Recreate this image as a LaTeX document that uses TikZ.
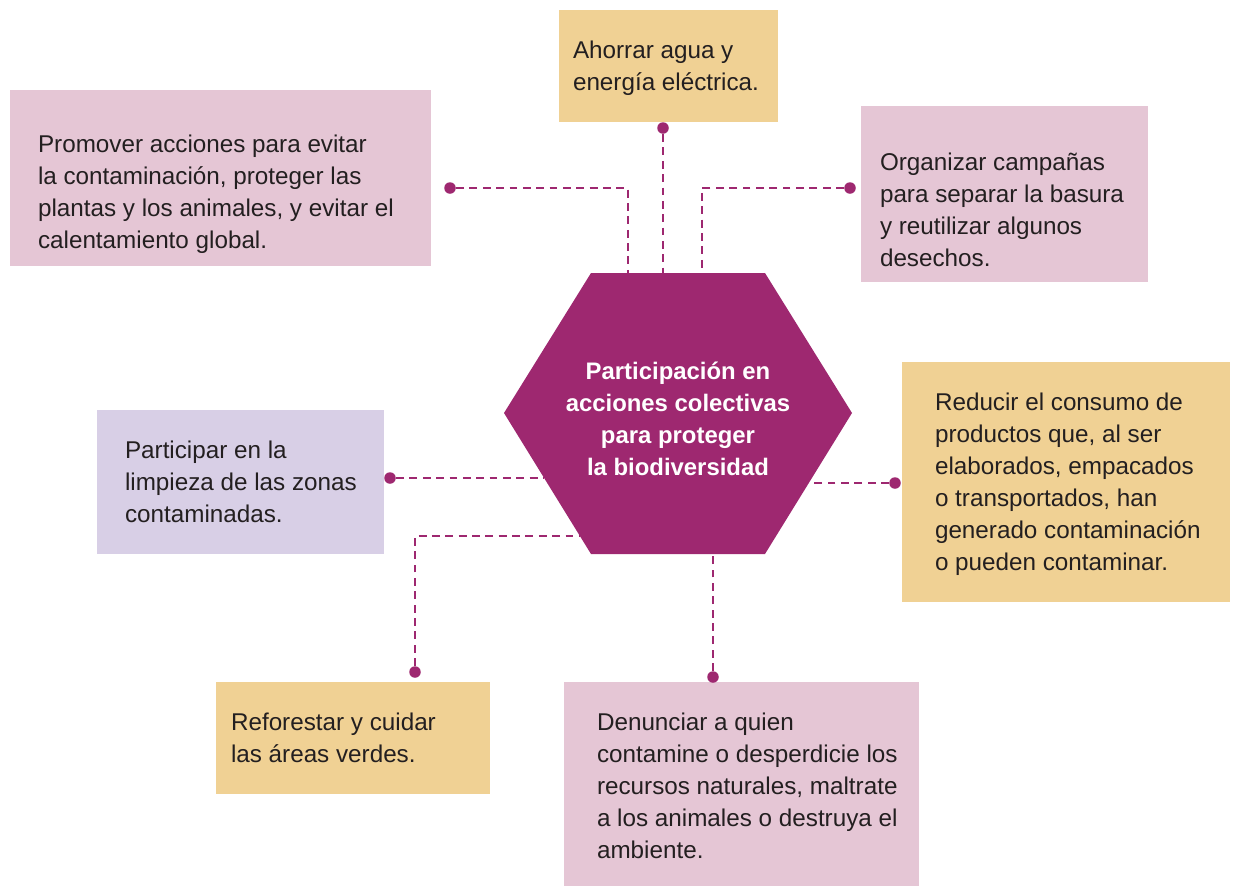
\documentclass[tikz,border=0pt]{standalone}
\usepackage{fontspec}
\setmainfont{Liberation Sans}
\usepackage{tikz}
\usetikzlibrary{positioning}
\definecolor{hubpurple}{HTML}{9E2870}
\definecolor{sand}{HTML}{F0D194}
\definecolor{rose}{HTML}{E5C6D5}
\definecolor{lilac}{HTML}{D8CFE6}
\definecolor{ink}{HTML}{231F20}
\tikzstyle{box}=[rectangle,inner sep=0pt,draw=none]
\tikzstyle{txt}=[align=left,anchor=west,inner sep=0pt,text=ink,font=\fontsize{13.8}{18.2}\selectfont]
\tikzstyle{hubtxt}=[align=center,inner sep=0pt,text=white,font=\bfseries\fontsize{13.6}{18.2}\selectfont]
\tikzstyle{dot}=[circle,fill=hubpurple,minimum size=0.23cm,inner sep=0pt]
\tikzstyle{link}=[hubpurple,line width=1.6pt,dash pattern=on 4.5pt off 3.1pt]

\begin{document}
\begin{tikzpicture}[x=0.02cm,y=-0.02cm]

  \useasboundingbox (0,0) rectangle (1235,887);

  % center hexagon
  \fill[hubpurple] (591,273) -- (765,273) -- (852,413) -- (765,554) -- (591,554) -- (504,413) -- cycle;
  \node[hubtxt] (hub) at (678,419) {Participación en\\acciones colectivas\\para proteger\\la biodiversidad};

  % boxes
  \node[box,fill=sand,minimum width=4.38cm,minimum height=2.24cm] (agua) at (668.5,66) {};
  \node[txt,right=0.28cm of agua.west,yshift=-0.05cm] (aguatxt) {Ahorrar agua y\\energía eléctrica.};

  \node[box,fill=rose,minimum width=8.42cm,minimum height=3.52cm] (promover) at (220.5,178) {};
  \node[txt,right=0.56cm of promover.west,yshift=-0.33cm] (promovertxt) {Promover acciones para evitar\\la contaminación, proteger las\\plantas y los animales, y evitar el\\calentamiento global.};

  \node[box,fill=rose,minimum width=5.74cm,minimum height=3.52cm] (campanas) at (1004.5,194) {};
  \node[txt,right=0.38cm of campanas.west,yshift=-0.32cm] (campanastxt) {Organizar campañas\\para separar la basura\\y reutilizar algunos\\desechos.};

  \node[box,fill=lilac,minimum width=5.74cm,minimum height=2.88cm] (limpieza) at (240.5,482) {};
  \node[txt,right=0.56cm of limpieza.west] (limpiezatxt) {Participar en la\\limpieza de las zonas\\contaminadas.};

  \node[box,fill=sand,minimum width=6.56cm,minimum height=4.8cm] (reducir) at (1066,482) {};
  \node[txt,right=0.66cm of reducir.west,yshift=-0.05cm] (reducirtxt) {Reducir el consumo de\\productos que, al ser\\elaborados, empacados\\o transportados, han\\generado contaminación\\o pueden contaminar.};

  \node[box,fill=sand,minimum width=5.48cm,minimum height=2.24cm] (reforestar) at (353,738) {};
  \node[txt,right=0.3cm of reforestar.west] (reforestartxt) {Reforestar y cuidar\\las áreas verdes.};

  \node[box,fill=rose,minimum width=7.1cm,minimum height=4.08cm] (denunciar) at (741.5,784) {};
  \node[txt,right=0.66cm of denunciar.west,yshift=-0.03cm] (denunciartxt) {Denunciar a quien\\contamine o desperdicie los\\recursos naturales, maltrate\\a los animales o destruya el\\ambiente.};

  % ends on the hexagon
  \foreach \pos/\name in {{(628,273)/hA}, {(663,273)/hB}, {(702,273)/hC}, {(544,478)/hD}, {(580,536)/hE}, {(809,483)/hF}, {(713,554)/hG}}
    \node[coordinate] (\name) at \pos {};

  % dots
  \foreach \pos/\name in {{(663,128)/agua}, {(450,188)/promover}, {(850,188)/campanas}, {(390,478)/limpieza}, {(415,672)/reforestar}, {(895,483)/reducir}, {(713,677)/denunciar}}
    \node[dot] (d\name) at \pos {};

  \foreach \source/\dest in {dagua/hB, dlimpieza/hD, dreducir/hF, ddenunciar/hG}
    \draw[link] (\source) -- (\dest);

  \draw[link] (dpromover) -| (hA);
  \draw[link] (dcampanas) -| (hC);
  \draw[link] (dreforestar) |- (hE);

\end{tikzpicture}
\end{document}
